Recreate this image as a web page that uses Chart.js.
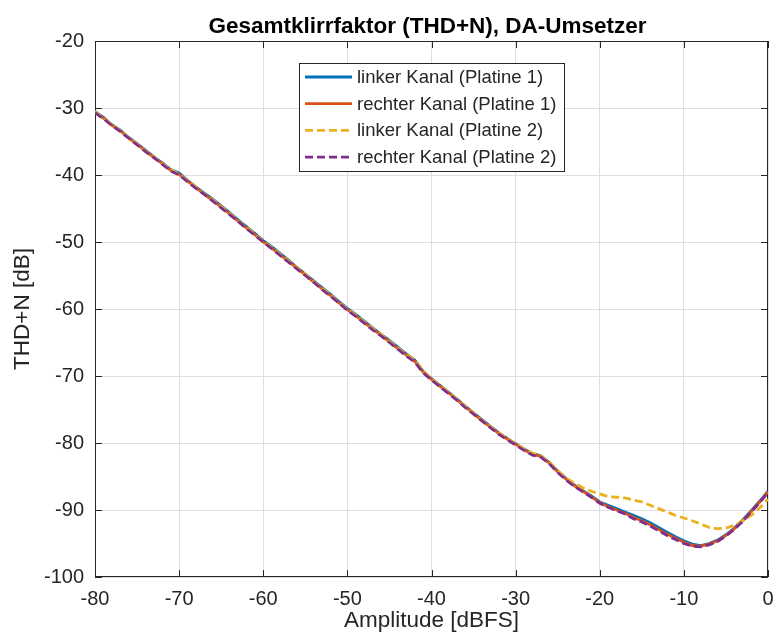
<!DOCTYPE html>
<html>
<head>
<meta charset="utf-8">
<script src="https://cdn.jsdelivr.net/npm/chart.js@4/dist/chart.umd.min.js"></script>
<style>
  body { margin: 0; background: #fff; }
  #chart { display: block; }
</style>
</head>
<body>
<canvas id="chart" width="774" height="643"></canvas>
<script>
// Amplitude in dBFS (x axis)
const amplitude = [
  -80, -79, -78, -77, -76, -75, -74, -73, -72, -71,
  -70, -69, -68, -67, -66, -65, -64, -63, -62, -61,
  -60, -59, -58, -57, -56, -55, -54, -53, -52, -51,
  -50, -49, -48, -47, -46, -45, -44, -43, -42, -41,
  -40, -39, -38, -37, -36, -35, -34, -33, -32, -31,
  -30, -29, -28, -27, -26, -25, -24, -23, -22, -21,
  -20, -19, -18, -17, -16, -15, -14, -13, -12, -11,
  -10, -9, -8, -7, -6, -5, -4, -3, -2, -1,
  0
];

// THD+N in dB
const linksPlatine1 = [
  -30.5, -31.4, -32.5, -33.3, -34.4, -35.3, -36.3, -37.3, -38.2, -39.2,
  -39.7, -40.8, -41.8, -42.7, -43.6, -44.6, -45.6, -46.7, -47.7, -48.7,
  -49.8, -50.7, -51.7, -52.7, -53.8, -54.8, -55.8, -56.8, -57.8, -58.9,
  -59.9, -60.8, -61.8, -62.8, -63.8, -64.7, -65.7, -66.7, -67.6, -69.3,
  -70.4, -71.4, -72.4, -73.4, -74.5, -75.5, -76.5, -77.5, -78.5, -79.3,
  -80.1, -80.9, -81.6, -81.9, -82.9, -84.2, -85.3, -86.3, -87.1, -87.9,
  -88.8, -89.3, -89.8, -90.3, -90.8, -91.3, -91.9, -92.6, -93.3, -94.0,
  -94.6, -95.1, -95.3, -95.0, -94.5, -93.7, -92.7, -91.5, -90.1, -88.7,
  -87.2
];
const rechtsPlatine1 = [
  -30.6, -31.5, -32.6, -33.4, -34.5, -35.4, -36.4, -37.4, -38.3, -39.3,
  -39.9, -40.9, -41.9, -42.9, -43.8, -44.8, -45.8, -46.9, -47.9, -48.9,
  -50.0, -50.9, -51.9, -52.9, -53.9, -54.9, -56.0, -57.0, -58.0, -59.1,
  -60.1, -61.0, -62.0, -63.0, -63.9, -64.9, -65.9, -66.9, -67.8, -69.4,
  -70.5, -71.5, -72.5, -73.5, -74.6, -75.6, -76.7, -77.6, -78.6, -79.4,
  -80.2, -81.0, -81.7, -82.0, -83.0, -84.3, -85.4, -86.4, -87.2, -88.0,
  -88.9, -89.5, -90.0, -90.5, -91.1, -91.6, -92.2, -92.9, -93.6, -94.2,
  -94.8, -95.3, -95.4, -95.1, -94.6, -93.8, -92.8, -91.6, -90.2, -88.8,
  -87.3
];
const linksPlatine2 = [
  -30.5, -31.5, -32.5, -33.4, -34.4, -35.4, -36.4, -37.3, -38.3, -39.2,
  -39.9, -40.8, -41.8, -42.8, -43.7, -44.7, -45.7, -46.8, -47.8, -48.8,
  -49.9, -50.8, -51.8, -52.8, -53.8, -54.8, -55.9, -56.9, -57.9, -59.0,
  -60.0, -60.9, -61.9, -62.9, -63.8, -64.8, -65.8, -66.8, -67.6, -69.2,
  -70.4, -71.4, -72.4, -73.4, -74.5, -75.5, -76.6, -77.5, -78.5, -79.3,
  -80.1, -80.9, -81.5, -81.9, -82.9, -84.1, -85.2, -86.0, -86.7, -87.2,
  -87.6, -88.0, -88.1, -88.2, -88.5, -88.8, -89.3, -89.8, -90.3, -90.8,
  -91.2, -91.6, -92.1, -92.6, -92.8, -92.7, -92.3, -91.6, -90.8, -89.7,
  -88.4
];
const rechtsPlatine2 = [
  -30.7, -31.6, -32.6, -33.5, -34.5, -35.5, -36.5, -37.4, -38.4, -39.4,
  -40.0, -41.0, -42.0, -42.9, -43.9, -44.9, -45.9, -46.9, -48.0, -49.0,
  -50.0, -51.0, -52.0, -53.0, -54.0, -55.0, -56.0, -57.1, -58.1, -59.1,
  -60.2, -61.1, -62.1, -63.1, -64.0, -65.0, -66.0, -67.0, -67.9, -69.5,
  -70.6, -71.6, -72.6, -73.6, -74.7, -75.7, -76.7, -77.7, -78.7, -79.5,
  -80.3, -81.1, -81.8, -82.1, -83.1, -84.4, -85.5, -86.5, -87.3, -88.1,
  -89.0, -89.6, -90.1, -90.6, -91.3, -91.8, -92.4, -93.1, -93.8, -94.4,
  -95.0, -95.4, -95.5, -95.2, -94.7, -93.9, -92.9, -91.7, -90.3, -88.9,
  -87.4
];

const seriesNames = [
  'linker Kanal (Platine 1)',
  'rechter Kanal (Platine 1)',
  'linker Kanal (Platine 2)',
  'rechter Kanal (Platine 2)'
];
const seriesColors = ['#0072BD', '#D95319', '#EDB120', '#7E2F8E'];
const seriesDash = [[], [], [8, 4], [8, 4]];
const seriesValues = [linksPlatine1, rechtsPlatine1, linksPlatine2, rechtsPlatine2];

const titleText = 'Gesamtklirrfaktor (THD+N), DA-Umsetzer';
const xTitle = 'Amplitude [dBFS]';
const yTitle = 'THD+N [dB]';

const fontFamily = '"Liberation Sans", Arial, Helvetica, sans-serif';
const axisColor = '#262626';
const gridColor = '#dfdfdf';

function toPoints(ys) {
  return amplitude.map((x, i) => ({ x: x, y: ys[i] }));
}

// box, inward ticks, title and the legend inside the plot
const matlabLook = {
  id: 'matlabLook',
  beforeDatasetsDraw(chart) {
    const { ctx, chartArea: a, scales } = chart;
    ctx.save();
    ctx.strokeStyle = axisColor;
    ctx.lineWidth = 1;
    ctx.strokeRect(a.left + 0.5, a.top + 0.5, a.right - a.left - 1, a.bottom - a.top - 1);
    const tl = 7;
    ctx.beginPath();
    scales.x.ticks.forEach(t => {
      const px = Math.round(scales.x.getPixelForValue(t.value)) + 0.5;
      ctx.moveTo(px, a.bottom); ctx.lineTo(px, a.bottom - tl);
      ctx.moveTo(px, a.top); ctx.lineTo(px, a.top + tl);
    });
    scales.y.ticks.forEach(t => {
      const py = Math.round(scales.y.getPixelForValue(t.value)) + 0.5;
      ctx.moveTo(a.left, py); ctx.lineTo(a.left + tl, py);
      ctx.moveTo(a.right, py); ctx.lineTo(a.right - tl, py);
    });
    ctx.stroke();
    ctx.restore();
  },
  afterDraw(chart) {
    const { ctx, chartArea: a } = chart;
    ctx.save();
    // title
    ctx.fillStyle = '#000';
    ctx.font = 'bold 22.5px ' + fontFamily;
    ctx.textAlign = 'center';
    ctx.textBaseline = 'alphabetic';
    ctx.fillText(titleText, (a.left + a.right) / 2 - 4, 33);

    // legend
    const lx = a.left + 204, ly = a.top + 22, lw = 265, lh = 108;
    ctx.fillStyle = '#fff';
    ctx.fillRect(lx, ly, lw, lh);
    ctx.strokeStyle = axisColor;
    ctx.lineWidth = 1;
    ctx.strokeRect(lx + 0.5, ly + 0.5, lw, lh);
    ctx.font = '18.5px ' + fontFamily;
    ctx.textAlign = 'left';
    ctx.textBaseline = 'middle';
    seriesNames.forEach((name, i) => {
      const cy = ly + 14 + i * 26.7;
      ctx.strokeStyle = seriesColors[i];
      ctx.lineWidth = 2.8;
      ctx.setLineDash(seriesDash[i]);
      ctx.beginPath();
      ctx.moveTo(lx + 6, cy);
      ctx.lineTo(lx + 53, cy);
      ctx.stroke();
      ctx.setLineDash([]);
      ctx.fillStyle = axisColor;
      ctx.fillText(name, lx + 58, cy + 1);
    });
    ctx.restore();
  }
};

const ctx = document.getElementById('chart').getContext('2d');
const chart = new Chart(ctx, {
  type: 'line',
  data: {
    datasets: seriesNames.map((name, i) => ({
      label: name,
      data: toPoints(seriesValues[i]),
      borderColor: seriesColors[i],
      backgroundColor: seriesColors[i],
      borderWidth: 2.8,
      borderDash: seriesDash[i],
      pointRadius: 0,
      tension: 0,
      fill: false,
      order: 4 - i   // later series on top, like MATLAB
    }))
  },
  options: {
    responsive: false,
    animation: false,
    layout: { padding: { top: 41, right: 0, left: 0, bottom: 0 } },
    plugins: {
      legend: { display: false },
      title: { display: false },
      tooltip: { enabled: false }
    },
    scales: {
      x: {
        type: 'linear',
        min: -80,
        max: 0,
        ticks: {
          stepSize: 10,
          padding: 10,
          color: axisColor,
          font: { family: fontFamily, size: 20 }
        },
        grid: { color: gridColor, drawTicks: false },
        border: { display: false },
        title: {
          display: true,
          text: xTitle,
          color: axisColor,
          font: { family: fontFamily, size: 22.5 },
          padding: { top: 0, bottom: 9 }
        },
        afterFit(scale) {
          scale.height = 66;
          scale.paddingLeft = 0;
          scale.paddingRight = 6;
        }
      },
      y: {
        type: 'linear',
        min: -100,
        max: -20,
        ticks: {
          stepSize: 10,
          padding: 11,
          color: axisColor,
          font: { family: fontFamily, size: 20 }
        },
        grid: { color: gridColor, drawTicks: false },
        border: { display: false },
        title: {
          display: true,
          text: yTitle,
          color: axisColor,
          font: { family: fontFamily, size: 22.5 },
          padding: { top: 9, bottom: 0 }
        },
        afterFit(scale) {
          scale.width = 95;
          scale.paddingTop = 0;
          scale.paddingBottom = 0;
        }
      }
    }
  },
  plugins: [matlabLook]
});
</script>
</body>
</html>
